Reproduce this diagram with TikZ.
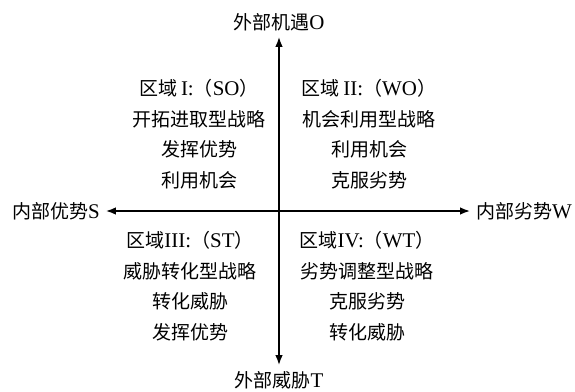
\documentclass[tikz,border=0pt]{standalone}
\usepackage{fontspec}
\setmainfont{Liberation Serif}[Scale=1.1]
\newfontfamily\cjk{Noto Sans CJK SC}
\usetikzlibrary{arrows.meta}
\newcommand{\zh}[1]{{\cjk #1}}

\begin{document}
\begin{tikzpicture}[x=1pt,y=-1pt,
        lbl/.style={inner sep=0pt,outer sep=6pt,font=\fontsize{19}{19}\selectfont},
        quad/.style={align=center,inner sep=0pt,font=\fontsize{19}{30.5}\selectfont},
        axis/.style={{Latex[length=10pt,width=7.5pt]}-{Latex[length=10pt,width=7.5pt]},line width=1.8pt}]
            \useasboundingbox (0,0) rectangle (575,391);
            \node [lbl] (O) at (279,22) {\zh{外部机遇}O};
            \node [lbl] (T) at (279,380) {\zh{外部威胁}T};
            \node [lbl] (S) at (56,211) {\zh{内部优势}S};
            \node [lbl] (W) at (524,211) {\zh{内部劣势}W};

            \node [quad] (SO) at (199,134) {\zh{区域}\,I:\zh{（}SO\zh{）}\\ \zh{开拓进取型战略}\\ \zh{发挥优势}\\ \zh{利用机会}};
            \node [quad] (WO) at (369,134) {\zh{区域}\,II:\zh{（}WO\zh{）}\\ \zh{机会利用型战略}\\ \zh{利用机会}\\ \zh{克服劣势}};
            \node [quad] (ST) at (190,286) {\zh{区域}III:\zh{（}ST\zh{）}\\ \zh{威胁转化型战略}\\ \zh{转化威胁}\\ \zh{发挥优势}};
            \node [quad] (WT) at (367,286) {\zh{区域}IV:\zh{（}WT\zh{）}\\ \zh{劣势调整型战略}\\ \zh{克服劣势}\\ \zh{转化威胁}};

            \draw [axis] (T) -- (O);
            \draw [axis] (S) -- (W);
        \end{tikzpicture}
\end{document}
